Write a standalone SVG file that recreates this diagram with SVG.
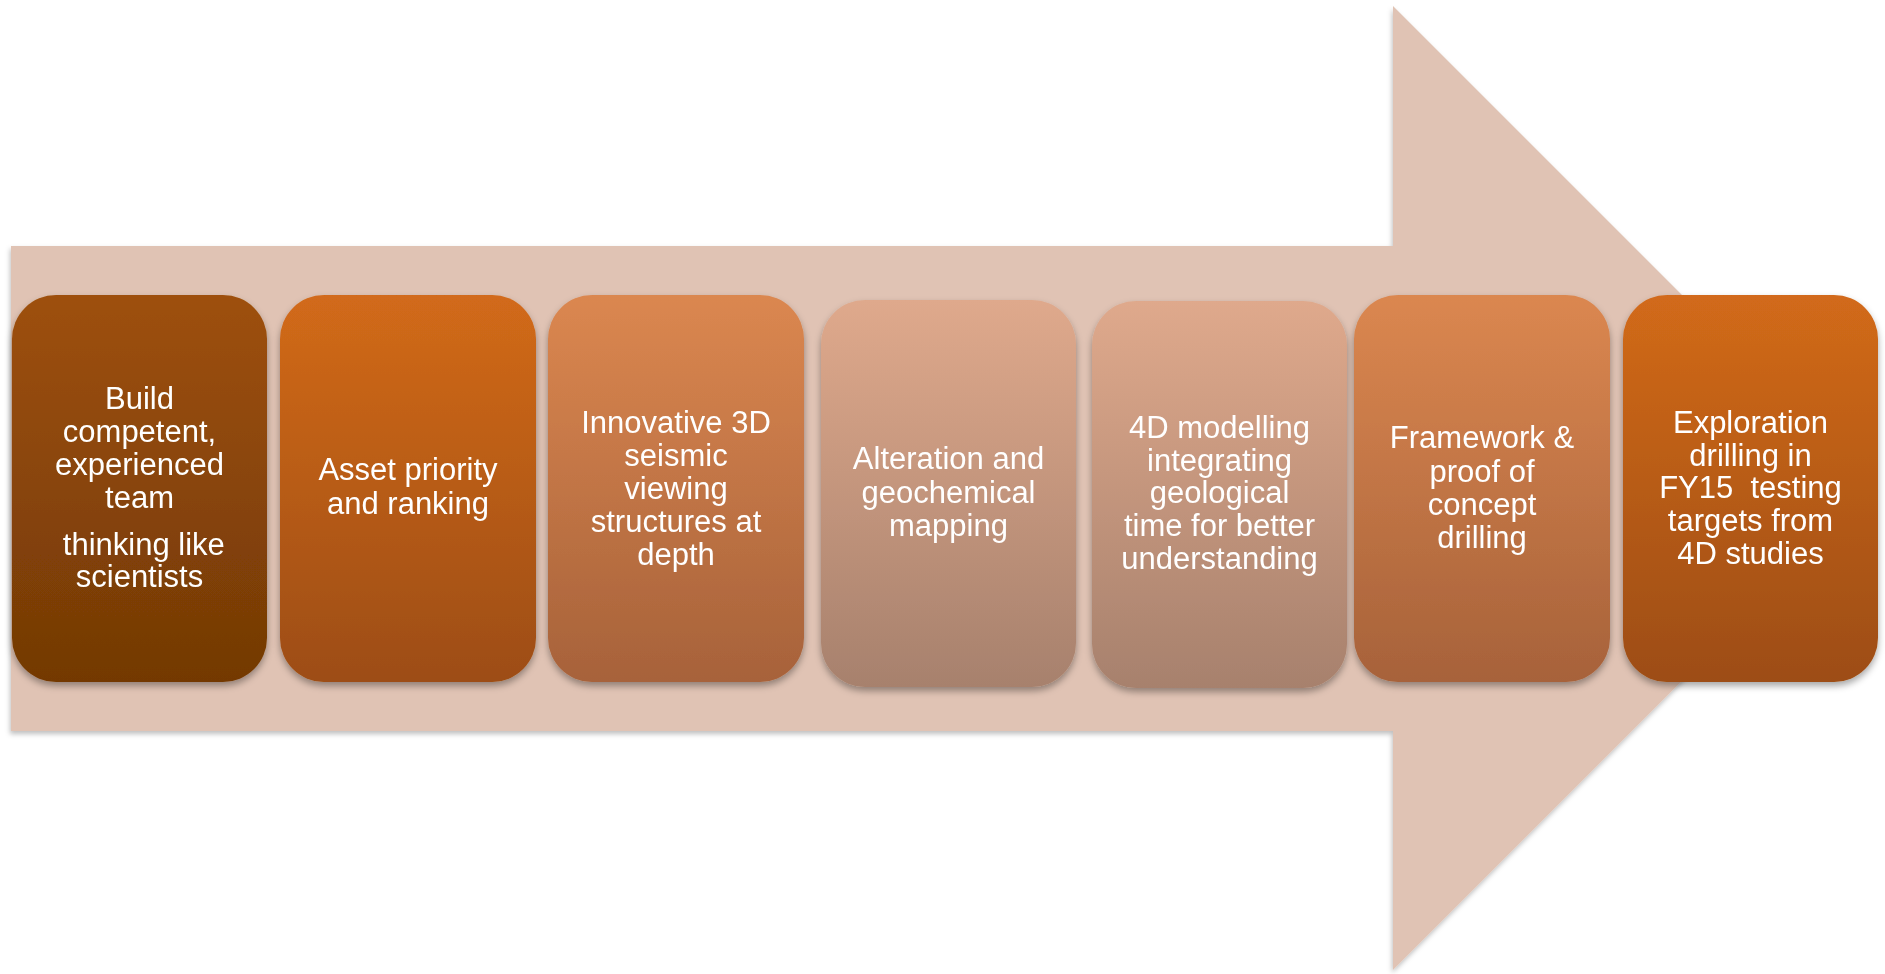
<svg xmlns="http://www.w3.org/2000/svg" width="1885" height="974" viewBox="0 0 1885 974">
<style>
.t{font-family:"Liberation Sans",Arial,sans-serif;font-size:31px;fill:#ffffff;text-anchor:middle;white-space:pre}
.box{filter:url(#sh)}
</style>
<defs>
<filter id="sh" x="-10%" y="-10%" width="120%" height="125%">
<feDropShadow dx="0" dy="4" stdDeviation="3.5" flood-color="#000" flood-opacity="0.35"/>
</filter>
<filter id="ash" x="-5%" y="-5%" width="110%" height="110%">
<feDropShadow dx="-1" dy="3" stdDeviation="2.5" flood-color="#000" flood-opacity="0.25"/>
</filter>
<linearGradient id="g1" x1="0" y1="0" x2="0" y2="1"><stop offset="0" stop-color="#9E500B"/><stop offset="1" stop-color="#733905"/></linearGradient>
<linearGradient id="g2" x1="0" y1="0" x2="0" y2="1"><stop offset="0" stop-color="#D26A1A"/><stop offset="1" stop-color="#9D4D12"/></linearGradient>
<linearGradient id="g3" x1="0" y1="0" x2="0" y2="1"><stop offset="0" stop-color="#DB8750"/><stop offset="1" stop-color="#A7623A"/></linearGradient>
<linearGradient id="g4" x1="0" y1="0" x2="0" y2="1"><stop offset="0" stop-color="#DFA98C"/><stop offset="1" stop-color="#A7816D"/></linearGradient>
</defs>
<g id="arrow">
<polygon points="11,246 1393,246 1393,6 1875,488 1393,970 1393,731 11,731" fill="#E0C3B4" filter="url(#ash)"/>
</g>
<g id="connectors"></g>
<g id="n1" class="box">
<rect x="12" y="295" width="255" height="387" rx="44" fill="url(#g1)"/>
<text class="t"><tspan x="139.5" y="409">Build</tspan><tspan x="139.5" y="442">competent,</tspan><tspan x="139.5" y="475">experienced</tspan><tspan x="139.5" y="508">team</tspan><tspan x="139.5" y="555"> thinking like</tspan><tspan x="139.5" y="587">scientists</tspan></text>
</g>
<g id="n2" class="box">
<rect x="280" y="295" width="256" height="387" rx="44" fill="url(#g2)"/>
<text class="t"><tspan x="408" y="480">Asset priority</tspan><tspan x="408" y="514">and ranking</tspan></text>
</g>
<g id="n3" class="box">
<rect x="548" y="295" width="256" height="387" rx="44" fill="url(#g3)"/>
<text class="t"><tspan x="676" y="433">Innovative 3D</tspan><tspan x="676" y="466">seismic</tspan><tspan x="676" y="499">viewing</tspan><tspan x="676" y="532">structures at</tspan><tspan x="676" y="565">depth</tspan></text>
</g>
<g id="n4" class="box">
<rect x="821" y="300" width="255" height="387" rx="44" fill="url(#g4)"/>
<text class="t"><tspan x="948.5" y="469">Alteration and</tspan><tspan x="948.5" y="503">geochemical</tspan><tspan x="948.5" y="536">mapping</tspan></text>
</g>
<g id="n5" class="box">
<rect x="1092" y="301" width="255" height="387" rx="44" fill="url(#g4)"/>
<text class="t"><tspan x="1219.5" y="438">4D modelling</tspan><tspan x="1219.5" y="471">integrating</tspan><tspan x="1219.5" y="503">geological</tspan><tspan x="1219.5" y="536">time for better</tspan><tspan x="1219.5" y="569">understanding</tspan></text>
</g>
<g id="n6" class="box">
<rect x="1354" y="295" width="256" height="387" rx="44" fill="url(#g3)"/>
<text class="t"><tspan x="1482" y="448">Framework &amp;</tspan><tspan x="1482" y="482">proof of</tspan><tspan x="1482" y="515">concept</tspan><tspan x="1482" y="548">drilling</tspan></text>
</g>
<g id="n7" class="box">
<rect x="1623" y="295" width="255" height="387" rx="44" fill="url(#g2)"/>
<text class="t"><tspan x="1750.5" y="433">Exploration</tspan><tspan x="1750.5" y="466">drilling in</tspan><tspan x="1750.5" y="498">FY15  testing</tspan><tspan x="1750.5" y="531">targets from</tspan><tspan x="1750.5" y="564">4D studies</tspan></text>
</g>
</svg>
